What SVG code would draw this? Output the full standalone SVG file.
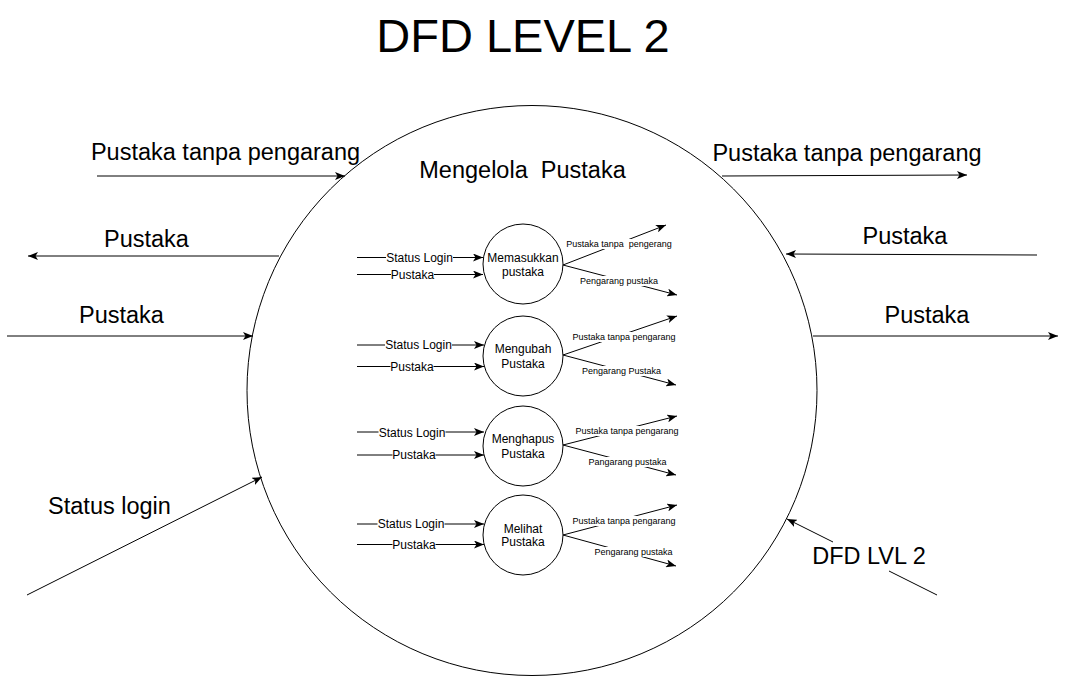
<svg xmlns="http://www.w3.org/2000/svg" width="1069" height="676" viewBox="0 0 1069 676">
<style>
text{font-family:"Liberation Sans",Arial,sans-serif;fill:#000}
.big{font-size:23.5px;text-anchor:middle}
.title{font-size:47px;text-anchor:middle}
.pn{font-size:12px;text-anchor:middle}
.il{font-size:12px;text-anchor:middle}
.ol{font-size:9px;text-anchor:middle}
.ln{stroke:#000;stroke-width:1;fill:none}
.bg{fill:#fff}
.proc{fill:#fff;stroke:#000;stroke-width:1}
</style>
<defs>
<marker id="arr" viewBox="0 0 10 8" refX="10" refY="4" markerWidth="10" markerHeight="8" markerUnits="userSpaceOnUse" orient="auto">
<path d="M0,0 L10,4 L0,8 L2.5,4 Z" fill="#000"/>
</marker>
</defs>
<rect width="1069" height="676" fill="#fff"/>
<text class="title" x="523" y="52">DFD LEVEL 2</text>
<g id="main-process">
<circle class="proc" cx="532" cy="390.5" r="285"/>
<text class="big" x="522.5" y="178" xml:space="preserve">Mengelola  Pustaka</text>
</g>
<g id="connectors">
<line class="ln" x1="97" y1="176" x2="345" y2="176" marker-end="url(#arr)"/>
<line class="ln" x1="279" y1="256" x2="28" y2="256" marker-end="url(#arr)"/>
<line class="ln" x1="7" y1="336" x2="253" y2="336" marker-end="url(#arr)"/>
<line class="ln" x1="27" y1="595" x2="262" y2="477" marker-end="url(#arr)"/>
<line class="ln" x1="722" y1="176" x2="967" y2="175" marker-end="url(#arr)"/>
<line class="ln" x1="1037" y1="255" x2="786" y2="254" marker-end="url(#arr)"/>
<line class="ln" x1="813" y1="336" x2="1058" y2="336" marker-end="url(#arr)"/>
<line class="ln" x1="937" y1="595" x2="889" y2="571"/>
<line class="ln" x1="833" y1="542" x2="787" y2="519" marker-end="url(#arr)"/>
<!-- inner inputs -->
<line class="ln" x1="357" y1="257.5" x2="483" y2="257.5" marker-end="url(#arr)"/>
<line class="ln" x1="357" y1="274.5" x2="483" y2="274.5" marker-end="url(#arr)"/>
<line class="ln" x1="357" y1="345" x2="484" y2="345" marker-end="url(#arr)"/>
<line class="ln" x1="357" y1="366.5" x2="484" y2="366.5" marker-end="url(#arr)"/>
<line class="ln" x1="357" y1="432" x2="484" y2="432" marker-end="url(#arr)"/>
<line class="ln" x1="357" y1="455" x2="484" y2="455" marker-end="url(#arr)"/>
<line class="ln" x1="357" y1="524" x2="484" y2="524" marker-end="url(#arr)"/>
<line class="ln" x1="357" y1="544.5" x2="484" y2="544.5" marker-end="url(#arr)"/>
<!-- inner outputs -->
<line class="ln" x1="563" y1="265" x2="666" y2="225" marker-end="url(#arr)"/>
<line class="ln" x1="563" y1="265" x2="677" y2="295" marker-end="url(#arr)"/>
<line class="ln" x1="563" y1="355" x2="677" y2="316" marker-end="url(#arr)"/>
<line class="ln" x1="563" y1="355" x2="676" y2="385" marker-end="url(#arr)"/>
<line class="ln" x1="563" y1="445" x2="677" y2="416" marker-end="url(#arr)"/>
<line class="ln" x1="563" y1="445" x2="676" y2="475" marker-end="url(#arr)"/>
<line class="ln" x1="563" y1="535" x2="677" y2="505" marker-end="url(#arr)"/>
<line class="ln" x1="563" y1="535" x2="676" y2="566" marker-end="url(#arr)"/>
</g>
<g id="outer-labels">
<text class="big" x="225.5" y="160">Pustaka tanpa pengarang</text>
<text class="big" x="146.5" y="246.7">Pustaka</text>
<text class="big" x="121.5" y="323">Pustaka</text>
<text class="big" x="109.5" y="514">Status login</text>
<text class="big" x="847" y="160.5">Pustaka tanpa pengarang</text>
<text class="big" x="905" y="244">Pustaka</text>
<text class="big" x="927" y="323">Pustaka</text>
<text class="big" x="869" y="564">DFD LVL 2</text>
</g>
<g id="input-labels">
<rect class="bg" x="386" y="251" width="67" height="13"/>
<text class="il" x="419.5" y="262">Status Login</text>
<rect class="bg" x="391" y="268" width="43" height="13"/>
<text class="il" x="412.5" y="279">Pustaka</text>
<rect class="bg" x="385" y="338.5" width="67" height="13"/>
<text class="il" x="418.5" y="349.3">Status Login</text>
<rect class="bg" x="390.5" y="360" width="43" height="13"/>
<text class="il" x="412" y="371">Pustaka</text>
<rect class="bg" x="378.5" y="425.5" width="67" height="13"/>
<text class="il" x="412" y="436.5">Status Login</text>
<rect class="bg" x="392.5" y="448.5" width="43" height="13"/>
<text class="il" x="414" y="459.3">Pustaka</text>
<rect class="bg" x="377.5" y="517.5" width="67" height="13"/>
<text class="il" x="411" y="528.3">Status Login</text>
<rect class="bg" x="392.5" y="538" width="43" height="13"/>
<text class="il" x="414" y="548.5">Pustaka</text>
</g>
<g id="output-labels">
<rect class="bg" x="565" y="239" width="108" height="10"/>
<text class="ol" x="619" y="247.2" xml:space="preserve">Pustaka tanpa  pengerang</text>
<rect class="bg" x="580" y="276" width="79" height="10"/>
<text class="ol" x="619" y="284.2">Pengarang pustaka</text>
<rect class="bg" x="572" y="332" width="104" height="10"/>
<text class="ol" x="624" y="340.2">Pustaka tanpa pengarang</text>
<rect class="bg" x="581" y="366" width="81" height="10"/>
<text class="ol" x="621.5" y="374.2">Pengarang Pustaka</text>
<rect class="bg" x="575" y="426" width="104" height="10"/>
<text class="ol" x="627" y="434.2">Pustaka tanpa pengarang</text>
<rect class="bg" x="588" y="457" width="79" height="10"/>
<text class="ol" x="627.5" y="465.2">Pangarang pustaka</text>
<rect class="bg" x="572" y="516" width="104" height="10"/>
<text class="ol" x="624" y="524.2">Pustaka tanpa pengarang</text>
<rect class="bg" x="594" y="547" width="79" height="10"/>
<text class="ol" x="633.5" y="555.2">Pengarang pustaka</text>
</g>
<g id="p-memasukkan">
<circle class="proc" cx="523" cy="264" r="40"/>
<text class="pn" x="523" y="262">Memasukkan</text>
<text class="pn" x="523" y="276">pustaka</text>
</g>
<g id="p-mengubah">
<circle class="proc" cx="523" cy="356" r="40"/>
<text class="pn" x="523" y="352.5">Mengubah</text>
<text class="pn" x="523" y="367.5">Pustaka</text>
</g>
<g id="p-menghapus">
<circle class="proc" cx="523" cy="446" r="40"/>
<text class="pn" x="523" y="442.5">Menghapus</text>
<text class="pn" x="523" y="457.5">Pustaka</text>
</g>
<g id="p-melihat">
<circle class="proc" cx="523" cy="535" r="40"/>
<text class="pn" x="523" y="532.5">Melihat</text>
<text class="pn" x="523" y="546">Pustaka</text>
</g>
</svg>
